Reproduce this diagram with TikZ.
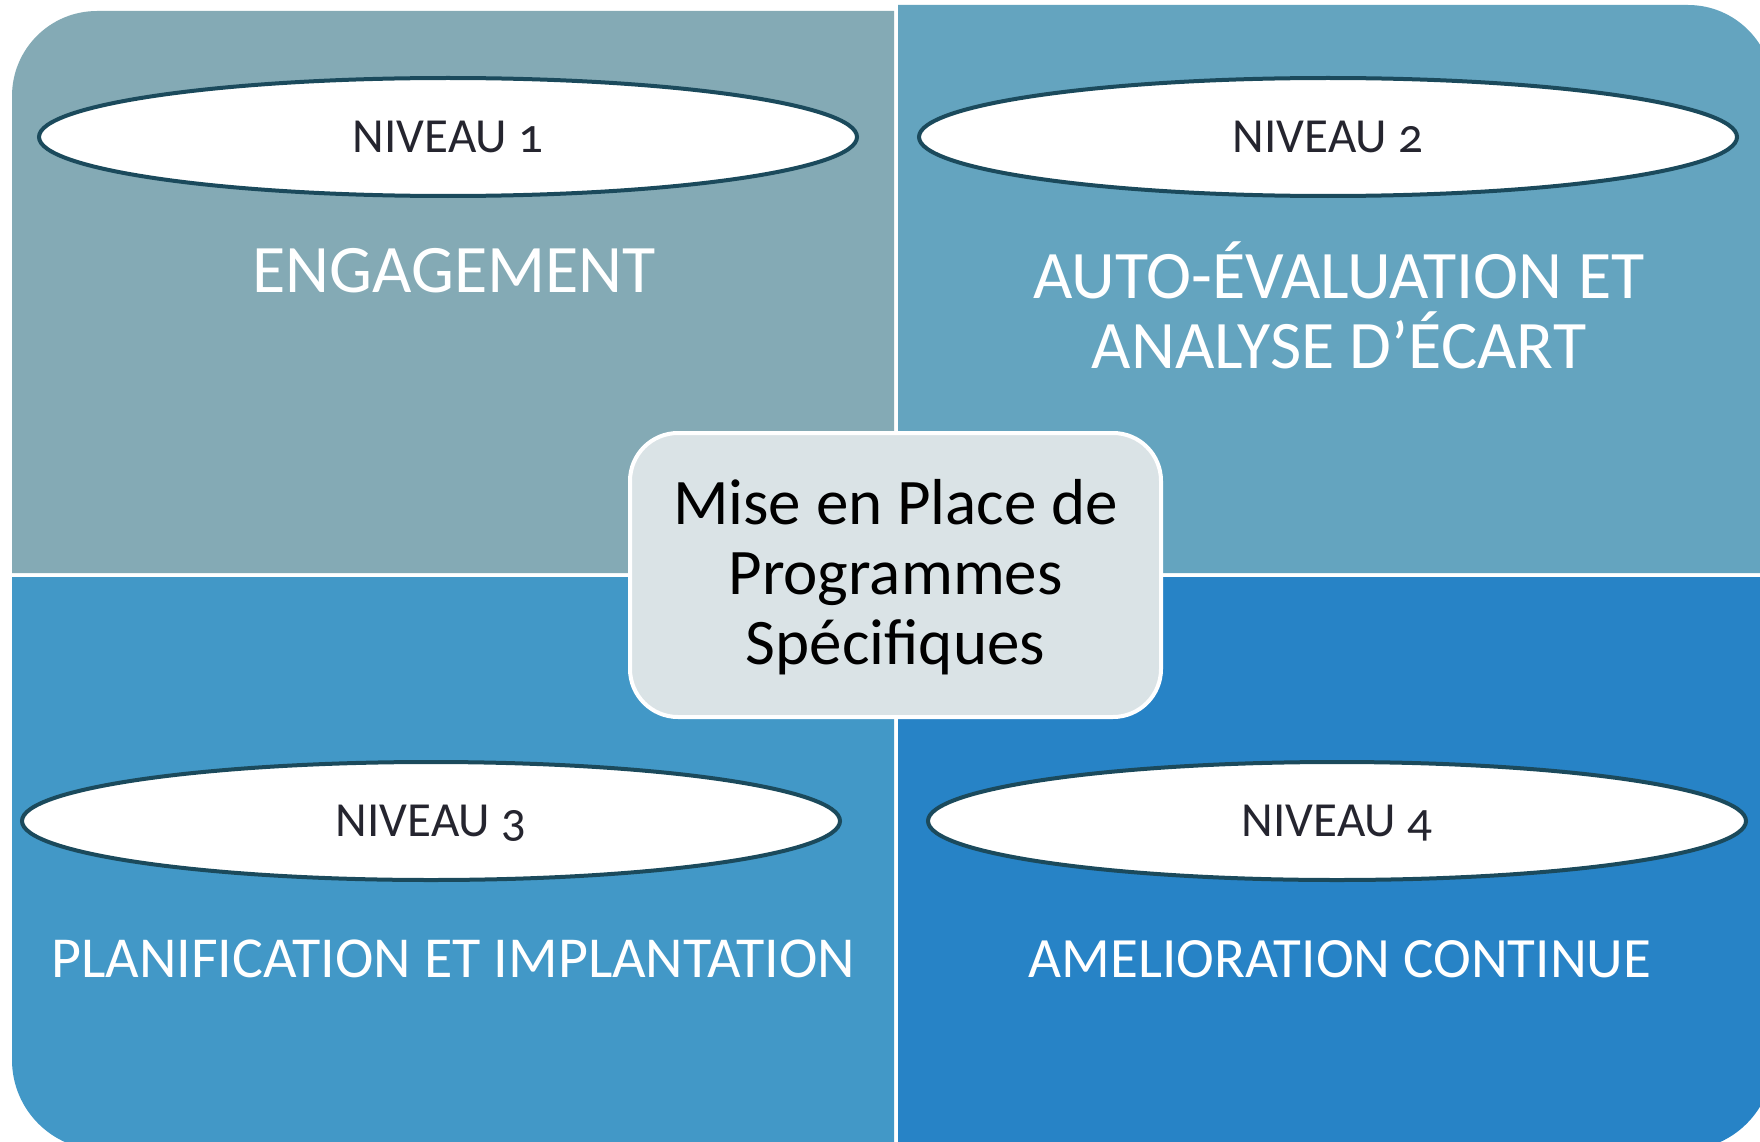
\documentclass[tikz,border=0pt]{standalone}
\usepackage{fontspec}
\setmainfont{Carlito}[Numbers=OldStyle]
\usetikzlibrary{shapes.geometric}
\definecolor{tlc}{HTML}{84AAB5}
\definecolor{trc}{HTML}{64A4BF}
\definecolor{blc}{HTML}{4298C7}
\definecolor{brc}{HTML}{2783C6}
\definecolor{elb}{HTML}{1B4A5C}
\definecolor{eltxt}{HTML}{25252F}
\definecolor{ctr}{HTML}{DAE3E6}
\tikzset{
  lvl/.style={ellipse, draw=elb, line width=4pt, fill=white, minimum width=818pt, minimum height=118pt,
    inner sep=0pt, text=eltxt, font=\fontsize{49}{52}\selectfont, text height=31pt, text depth=0pt},
  bigtxt/.style={text=white, anchor=base, inner sep=0pt, align=center},
  ctrbox/.style={draw=white, line width=4pt, fill=ctr, rounded corners=48pt, minimum width=531pt, minimum height=284pt, inner sep=0pt},
  ctrtxt/.style={text=black, anchor=base, inner sep=0pt, align=center, font=\fontsize{65}{70}\selectfont}
}
\begin{document}
\begin{tikzpicture}[x=1pt,y=1pt]
\useasboundingbox (0,0) rectangle (1760,-1142);
\clip (0,0) rectangle (1760,-1142);
\fill[white] (0,0) rectangle (1760,-1142);
% quadrants
\fill[tlc] (12,-573) -- (12,-96) arc[start angle=180,end angle=90,radius=85] -- (894,-11) -- (894,-573) -- cycle;
\fill[trc] (898,-5) -- (1688,-5) arc[start angle=90,end angle=0,radius=85] -- (1773,-573) -- (898,-573) -- cycle;
\fill[blc] (12,-577) -- (894,-577) -- (894,-1150) -- (102,-1150) arc[start angle=270,end angle=180,radius=90] -- cycle;
\fill[brc] (898,-577) -- (1773,-577) -- (1773,-1060) arc[start angle=0,end angle=-90,radius=90] -- (898,-1150) -- cycle;
% level ellipses
\node[lvl] (n1) at (448,-137) {NIVEAU 1};
\node[lvl] (n2) at (1328,-137) {NIVEAU 2};
\node[lvl] (n3) at (431,-821) {NIVEAU 3};
\node[lvl] (n4) at (1337,-821) {NIVEAU 4};
% level titles
\node[bigtxt, font=\fontsize{68}{70}\selectfont] (t1) at (454,-292) {ENGAGEMENT};
\node[bigtxt, font=\fontsize{68}{70}\selectfont] (t2) at (1339,-368) {AUTO-ÉVALUATION ET\\ANALYSE D’ÉCART};
\node[bigtxt, font=\fontsize{58}{60}\selectfont] (t3) at (453,-977) {PLANIFICATION ET IMPLANTATION};
\node[bigtxt, font=\fontsize{57}{60}\selectfont] (t4) at (1340,-977) {AMELIORATION CONTINUE};
% centre
\node[ctrbox] (c) at (895.5,-575) {};
\node[ctrtxt] (ct) at (895.5,-664) {Mise en Place de\\Programmes\\Spécifiques};
\end{tikzpicture}
\end{document}
